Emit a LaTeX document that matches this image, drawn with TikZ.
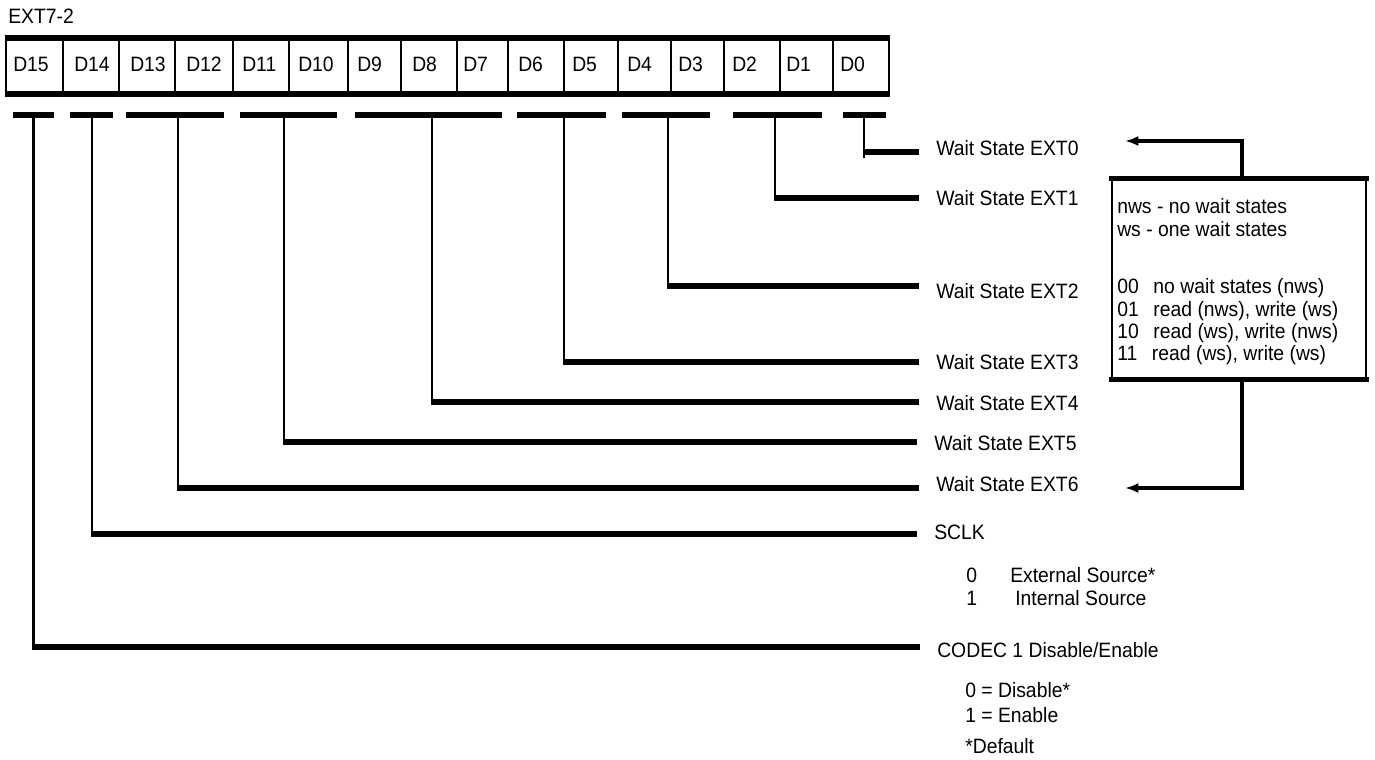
\documentclass[tikz,border=0pt]{standalone}
\usepackage{fontspec}
\setmainfont[FakeStretch=0.93]{Liberation Sans}
\usetikzlibrary{arrows.meta}
\begin{document}
\begin{tikzpicture}[x=0.75pt,y=-0.75pt,
  txt/.style={anchor=base west, inner sep=0pt, font=\fontsize{15.6pt}{18pt}\selectfont},
  cellline/.style={line width=1.9pt},
  thickedge/.style={line width=4pt},
  barnode/.style={fill=black, inner sep=0pt, minimum height=4.3pt},
  vline/.style={line width=2.1pt},
  hline/.style={line width=4.3pt},
  arr/.style={line width=2.8pt, -{Latex[length=10pt,width=7.5pt]}},
]
\useasboundingbox (0,0) rectangle (1375,760);

% title
\node[txt] (title) at (8,23) {EXT7-2};

% register cells
\foreach \nm/\l/\r/\tx in {15/6/63/13, 14/63/119/74, 13/119/175/130, 12/175/233/186,
  11/233/289/242, 10/289/348/298, 9/348/401/357, 8/401/457/412, 7/457/508/463,
  6/508/564/518, 5/564/618/572, 4/618/671/627, 3/671/724/678, 2/724/780/732,
  1/780/833/786, 0/833/889/840}{
  \draw[cellline] (\l,38) rectangle (\r,94);
  \node[txt] (d\nm) at (\tx,71) {D\nm};
}
\draw[thickedge] (5,38) -- (890,38);
\draw[thickedge] (5,94) -- (890,94);

% field labels
\node[txt] (w0) at (936,155) {Wait State EXT0};
\node[txt] (w1) at (936,205) {Wait State EXT1};
\node[txt] (w2) at (936,298) {Wait State EXT2};
\node[txt] (w3) at (936,369) {Wait State EXT3};
\node[txt] (w4) at (936,410) {Wait State EXT4};
\node[txt] (w5) at (934,450) {Wait State EXT5};
\node[txt] (w6) at (936,491) {Wait State EXT6};
\node[txt] (sclk) at (934,539) {SCLK};
\node[txt] (codec) at (937,657) {CODEC 1 Disable/Enable};

% bit field bars and connectors
\foreach \n/\l/\r/\v/\y/\ye/\t in {
  9/843/886/864/152/158/w0,
  8/733/822/775/198/200/w1,
  7/622/710/668/286/288/w2,
  6/517/606/564/362/364/w3,
  5/355/502/432/402/404/w4,
  4/240/337/284/442/444/w5,
  3/126/224/178/488/490/w6,
  2/70/113/92/534/536/sclk,
  1/13/54/33.5/647/649/codec}{
  \node[barnode, minimum width={(\r-\l)*0.75pt}] (bar\n) at ({(\l+\r)/2},115) {};
  \coordinate (k\n) at (\v,\y);
  \draw[vline] (bar\n.center -| k\n) -- (\v,\ye);
  \draw[hline, shorten >=12.75pt] ([xshift=-0.8pt]k\n) -- (\t.west |- k\n);
}

% legend box
\node[draw, line width=2.2pt, minimum width=190.5pt, minimum height=148.5pt, inner sep=0pt] (legend) at (1239,279) {};
\draw[thickedge] ([xshift=-1pt]legend.north west) -- ([xshift=1pt]legend.north east);
\draw[thickedge] ([xshift=-1pt]legend.south west) -- ([xshift=1pt]legend.south east);
\node[txt] (l1) at (1117,213) {nws - no wait states};
\node[txt] (l2) at (1117,236) {ws - one wait states};
\node[txt] (l3) at (1117,293) {00\hspace{11pt}no wait states (nws)};
\node[txt] (l4) at (1117,316) {01\hspace{11pt}read (nws), write (ws)};
\node[txt] (l5) at (1117,338) {10\hspace{11pt}read (ws), write (nws)};
\node[txt] (l6) at (1117,360) {11\hspace{11pt}read (ws), write (ws)};

\coordinate (t0) at (1125,141);
\coordinate (t6) at (1125,488);
\draw[arr] ([xshift=2.25pt]legend.north) |- (t0);
\draw[arr] ([xshift=2.25pt]legend.south) |- (t6);

% SCLK and CODEC values
\node[txt] (s0) at (966,582) {0};
\node[txt] (s0t) at (1010,582) {External Source*};
\node[txt] (s1) at (966,605) {1};
\node[txt] (s1t) at (1015,605) {Internal Source};
\node[txt] (c0) at (965,697) {0 = Disable*};
\node[txt] (c1) at (965,722) {1 = Enable};
\node[txt] (def) at (965,753) {*Default};
\end{tikzpicture}
\end{document}
